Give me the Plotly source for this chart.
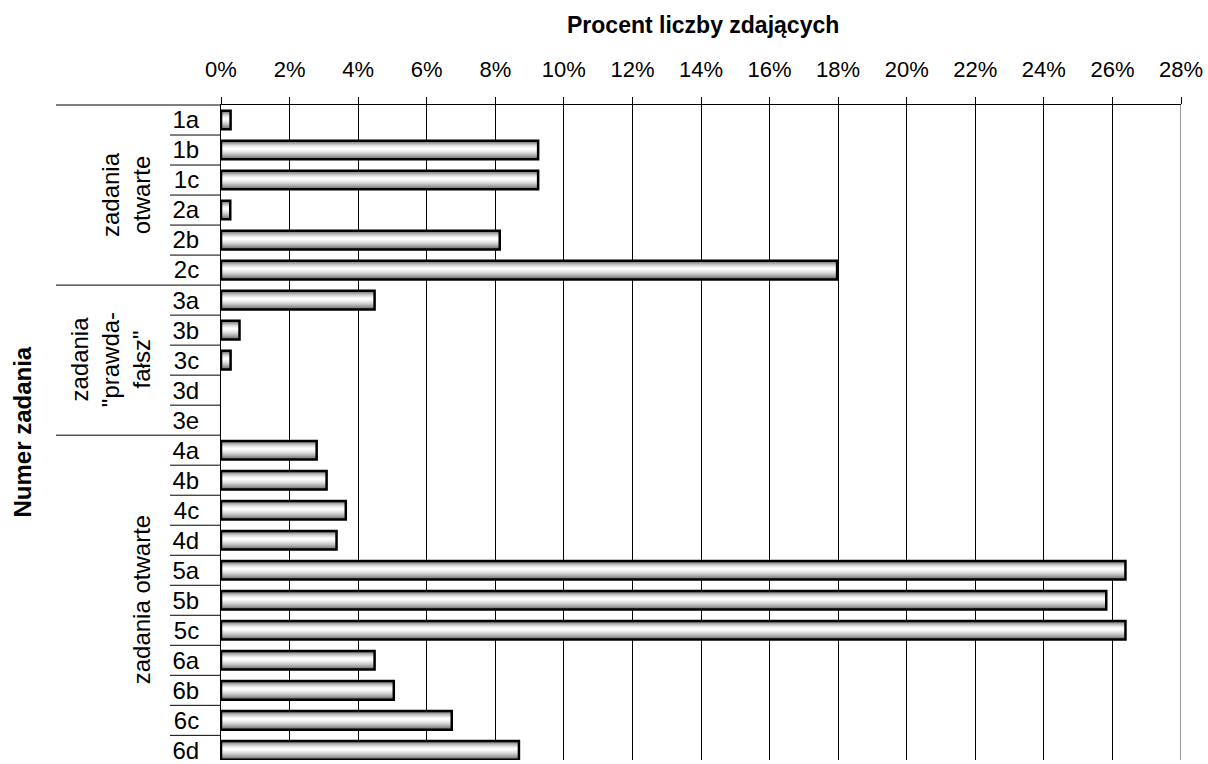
import plotly.graph_objects as go

# Task identifiers (rows from top to bottom) and percent of examinees
categories = ["1a", "1b", "1c", "2a", "2b", "2c",
              "3a", "3b", "3c", "3d", "3e",
              "4a", "4b", "4c", "4d", "5a", "5b", "5c", "6a", "6b", "6c", "6d"]
percent = [0.28, 9.25, 9.25, 0.27, 8.13, 17.97,
           4.48, 0.54, 0.28, 0.0, 0.0,
           2.79, 3.08, 3.64, 3.37, 26.38, 25.82, 26.38, 4.48, 5.04, 6.73, 8.69]

# Task groups: label, first row, last row
group_labels = ["zadania<br>otwarte", 'zadania<br>"prawda-<br>fałsz"', "zadania otwarte"]
group_first = [0, 6, 11]
group_last = [5, 10, 21]

tick_values = list(range(0, 29, 2))
tick_labels = [f"{v}%" for v in tick_values]

x_title = "Procent liczby zdających"
y_title = "Numer zadania"

FONT = "Liberation Sans, Arial, sans-serif"
W, H = 1208, 764
ML, MR, MT, MB = 221, 27, 105, 0
PW = W - ML - MR
PH = H - MT - MB


def px_x(px):
    return (px - ML) / PW


def px_y(py):
    return 1 - (py - MT) / PH


# empty rows (0%) get no bar at all
bar_values = [v if v > 0 else None for v in percent]

fig = go.Figure()

# Cylinder-shaded bars: stacked strips, darker at the edges, light in the middle
BAR_W = 0.62
N = 16
for k in range(N):
    d = 1 - k / N  # relative distance from the highlight
    g = int(round(255 - 155 * d ** 1.6))
    w = BAR_W * d
    off = -w / 2 - 0.05 * (1 - d)
    fig.add_trace(go.Bar(
        y=categories, x=bar_values, orientation="h",
        width=w, offset=off,
        marker=dict(color=f"rgb({g},{g},{g})", line=dict(width=0)),
        showlegend=False, hoverinfo="skip",
    ))

# Bar outlines
fig.add_trace(go.Bar(
    y=categories, x=bar_values, orientation="h",
    width=BAR_W, offset=-BAR_W / 2,
    marker=dict(color="rgba(0,0,0,0)", line=dict(color="black", width=2.5)),
    showlegend=False,
))

shapes = []
# Right border of the plot area
shapes.append(dict(type="line", xref="x", yref="paper", x0=28, x1=28, y0=0, y1=1,
                   line=dict(color="#999999", width=2), layer="above"))
# Top rule continuing over the label column
shapes.append(dict(type="line", xref="paper", yref="paper", x0=px_x(56), x1=0,
                   y0=1, y1=1, line=dict(color="black", width=1)))
# Row separators in the label column
for i in range(len(categories) - 1):
    boundary = i + 0.5
    is_group = (i + 1) in group_first
    shapes.append(dict(type="line", xref="paper", yref="y",
                       x0=px_x(56) if is_group else px_x(170), x1=0,
                       y0=boundary, y1=boundary,
                       line=dict(color="black", width=1)))

annotations = []
group_x = [126, 110, 141]
for lbl, a, b, gx in zip(group_labels, group_first, group_last, group_x):
    annotations.append(dict(text=lbl, xref="paper", yref="y", x=px_x(gx), y=(a + b) / 2,
                            xanchor="center", yanchor="middle", textangle=-90,
                            showarrow=False, font=dict(size=24, color="black", family=FONT)))

annotations.append(dict(text=f"<b>{y_title}</b>", xref="paper", yref="paper",
                        x=px_x(22), y=0.5, xanchor="center", yanchor="middle",
                        textangle=-90, showarrow=False,
                        font=dict(size=24, color="black", family=FONT)))
annotations.append(dict(text=f"<b>{x_title}</b>", xref="paper", yref="paper",
                        x=px_x(703), y=px_y(25), xanchor="center", yanchor="middle",
                        showarrow=False, font=dict(size=23, color="black", family=FONT)))

fig.update_layout(
    width=W, height=H,
    margin=dict(l=ML, r=MR, t=MT, b=MB, pad=0),
    paper_bgcolor="white", plot_bgcolor="white",
    barmode="overlay",
    font=dict(family=FONT, color="black"),
    shapes=shapes, annotations=annotations,
    xaxis=dict(
        side="top", range=[0, 28], tickvals=tick_values, ticktext=tick_labels,
        ticks="outside", ticklen=7, tickcolor="black", tickwidth=1,
        ticklabelstandoff=11,
        tickfont=dict(size=22, color="black", family=FONT),
        showline=True, linecolor="black", linewidth=1,
        showgrid=True, gridcolor="black", gridwidth=1,
        zeroline=False, fixedrange=True,
    ),
    yaxis=dict(
        type="category", categoryorder="array", categoryarray=categories,
        range=[(H - MT) / 30.2 - 0.5, -0.5],
        ticks="", showline=True, linecolor="black", linewidth=1,
        tickfont=dict(size=24, color="black", family=FONT),
        ticklabelstandoff=16,
        showgrid=False, zeroline=False, fixedrange=True,
    ),
)

fig.write_html("out.html")
